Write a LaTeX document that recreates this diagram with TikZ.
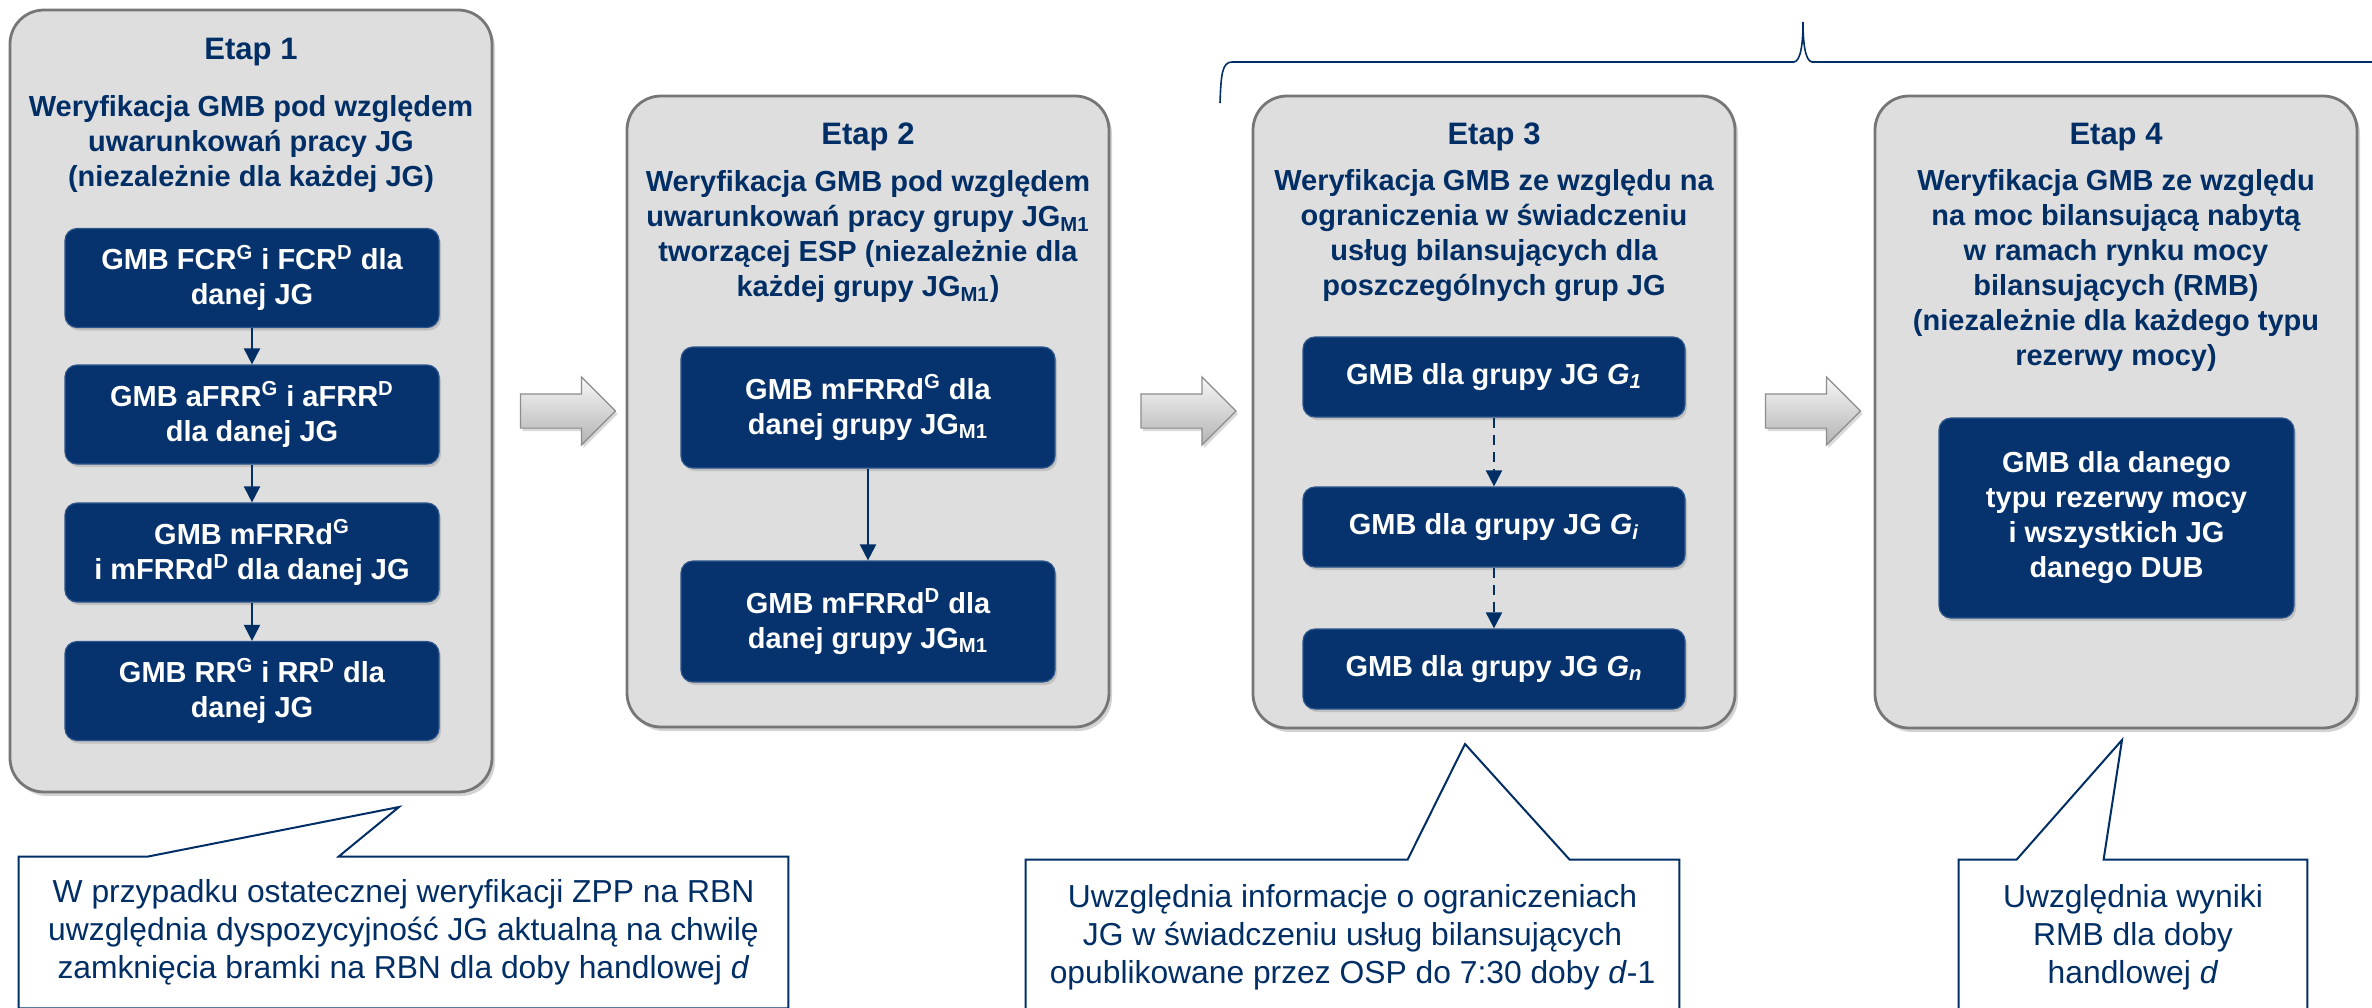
\documentclass[tikz,border=0pt]{standalone}
\usepackage{fontspec}
\setmainfont{Liberation Sans}
\usetikzlibrary{shapes.arrows,shadows,calc,arrows.meta}

\definecolor{navy}{RGB}{0,46,101}
\definecolor{boxblue}{RGB}{6,51,110}
\definecolor{boxrim}{RGB}{45,85,140}
\definecolor{panelfill}{RGB}{222,222,222}
\definecolor{panelrim}{RGB}{118,118,118}
\definecolor{arrowrim}{RGB}{140,140,140}

\tikzset{
  panel/.style={draw=panelrim, line width=1.4pt, fill=panelfill, rounded corners=17pt,
    minimum width=241pt,
    drop shadow={shadow xshift=1.5pt, shadow yshift=-2pt, opacity=0.35}},
  stagehead/.style={text=navy, inner sep=0pt, font=\fontsize{15.5}{18}\selectfont\bfseries},
  stagetitle/.style={text=navy, align=center, inner sep=0pt,
    font=\fontsize{14.5}{17.5}\selectfont\bfseries},
  task/.style={fill=boxblue, draw=boxrim, line width=0.6pt, rounded corners=6pt,
    text=white, align=center, inner sep=0pt,
    font=\fontsize{14.5}{17.5}\selectfont\bfseries,
    drop shadow={shadow xshift=1pt, shadow yshift=-1.5pt, opacity=0.3}},
  flow/.style={draw=navy, line width=1pt, -{Triangle[width=8pt,length=8pt]}},
  flowdash/.style={flow, dash pattern=on 5pt off 3.5pt},
  stagearrow/.style={single arrow, single arrow head extend=8.5pt, single arrow head indent=0pt,
    inner xsep=0pt, inner ysep=8.25pt, minimum height=47.5pt,
    draw=arrowrim, line width=0.6pt, top color=white!97!black, bottom color=black!30,
    drop shadow={shadow xshift=1pt, shadow yshift=-1.5pt, opacity=0.3}},
  notebox/.style={text=navy, align=center, inner sep=0pt,
    font=\fontsize{15.9}{19}\selectfont},
  noteline/.style={draw=navy, line width=1pt, line join=miter},
  bracket/.style={draw=navy, line width=0.8pt},
}

\begin{document}
\begin{tikzpicture}[x=0.5pt,y=-0.5pt]
\useasboundingbox (0,0) rectangle (2372,1007);
\clip (0,0) rectangle (2372,1007);

% ---------- stage panels ----------
\node[panel, minimum height=391pt]   (e1) at (251,401)    {};
\node[panel, minimum height=315.5pt] (e2) at (868,411.5)  {};
\node[panel, minimum height=316pt]   (e3) at (1494,412)   {};
\node[panel, minimum height=316pt]   (e4) at (2116,412)   {};

% ---------- stage headings ----------
\node[stagehead] (h1) at (251,52)  {Etap 1};
\node[stagehead] (h2) at (868,137) {Etap 2};
\node[stagehead] (h3) at (1494,137) {Etap 3};
\node[stagehead] (h4) at (2116,137) {Etap 4};

\node[stagetitle] (t1) at (251,144) {Weryfikacja GMB pod względem\\uwarunkowań pracy JG\\(niezależnie dla każdej JG)};
\node[stagetitle] (t2) at (868,237) {Weryfikacja GMB pod względem\\uwarunkowań pracy grupy JG\textsubscript{M1}\\tworzącej ESP (niezależnie dla\\każdej grupy JG\textsubscript{M1})};
\node[stagetitle] (t3) at (1494,236) {Weryfikacja GMB ze względu na\\ograniczenia w świadczeniu\\usług bilansujących dla\\poszczególnych grup JG};
\node[stagetitle] (t4) at (2116,270) {Weryfikacja GMB ze względu\\na moc bilansującą nabytą\\w ramach rynku mocy\\bilansujących (RMB)\\(niezależnie dla każdego typu\\rezerwy mocy)};

% ---------- stage 1 tasks ----------
\begin{scope}[every node/.append style={minimum width=187pt, minimum height=49.5pt}]
\node[task] (a1) at (252,278)   {GMB FCR\textsuperscript{G} i FCR\textsuperscript{D} dla\\danej JG};
\node[task] (a2) at (252,414.5) {GMB aFRR\textsuperscript{G} i aFRR\textsuperscript{D}\\dla danej JG};
\node[task] (a3) at (252,552.5) {GMB mFRRd\textsuperscript{G}\\i mFRRd\textsuperscript{D} dla danej JG};
\node[task] (a4) at (252,691)   {GMB RR\textsuperscript{G} i RR\textsuperscript{D} dla\\danej JG};
\end{scope}
\draw[flow] (a1) -- (a2);
\draw[flow] (a2) -- (a3);
\draw[flow] (a3) -- (a4);

% ---------- stage 2 tasks ----------
\begin{scope}[every node/.append style={minimum width=187pt, minimum height=60.5pt}]
\node[task] (b1) at (868,407.5) {GMB mFRRd\textsuperscript{G} dla\\danej grupy JG\textsubscript{M1}};
\node[task] (b2) at (868,621.5) {GMB mFRRd\textsuperscript{D} dla\\danej grupy JG\textsubscript{M1}};
\end{scope}
\draw[flow] (b1) -- (b2);

% ---------- stage 3 tasks ----------
\begin{scope}[every node/.append style={minimum width=191pt, minimum height=40pt}]
\node[task] (c1) at (1494,377) {GMB dla grupy JG \textit{G\textsubscript{1}}};
\node[task] (c2) at (1494,527) {GMB dla grupy JG \textit{G\textsubscript{i}}};
\node[task] (c3) at (1494,669) {GMB dla grupy JG \textit{G\textsubscript{n}}};
\end{scope}
\draw[flowdash] (c1) -- (c2);
\draw[flowdash] (c2) -- (c3);

% ---------- stage 4 task ----------
\node[task, minimum width=177.5pt, minimum height=100pt] (d1) at (2116.5,518)
  {GMB dla danego\\typu rezerwy mocy\\i wszystkich JG\\danego DUB};

% ---------- arrows between stages ----------
\node[stagearrow] (s12) at (559.5,411) {};
\node[stagearrow] (s23) at (1180,411)  {};
\node[stagearrow] (s34) at (1804.5,411) {};

% ---------- bracket over stages 3 and 4 ----------
\draw[bracket] (1220,103) .. controls (1221,75) and (1222,62) .. (1232,62)
  -- (1794,62) .. controls (1801,61) and (1803,42) .. (1803,22)
  .. controls (1803,42) and (1805,61) .. (1812,62) -- (2380,62);

% ---------- notes ----------
\coordinate (p1) at (399,807);
\coordinate (p2) at (1465,744);
\coordinate (p3) at (2122,740);

\node[notebox, minimum width=384.5pt, minimum height=75.5pt] (n1) at (403.5,932.5)
  {W przypadku ostatecznej weryfikacji ZPP na RBN\\uwzględnia dyspozycyjność JG aktualną na chwilę\\zamknięcia bramki na RBN dla doby handlowej \textit{d}};
\node[notebox, minimum width=326.5pt, minimum height=77pt] (n2) at (1352.5,937)
  {Uwzględnia informacje o ograniczeniach\\JG w świadczeniu usług bilansujących\\opublikowane przez OSP do 7:30 doby \textit{d}-1};
\node[notebox, minimum width=174pt, minimum height=77pt] (n3) at (2133,937)
  {Uwzględnia wyniki\\RMB dla doby\\handlowej \textit{d}};

\draw[noteline] (n1.south west) -- (n1.north west) -- ($(n1.north west)+(129,0)$) -- (p1)
  -- ($(n1.north west)+(320,0)$) -- (n1.north east) -- (n1.south east) -- cycle;
\draw[noteline] (n2.south west) -- (n2.north west) -- ($(n2.north west)+(382,0)$) -- (p2)
  -- ($(n2.north west)+(544,0)$) -- (n2.north east) -- (n2.south east) -- cycle;
\draw[noteline] (n3.south west) -- (n3.north west) -- ($(n3.north west)+(58,0)$) -- (p3)
  -- ($(n3.north west)+(145,0)$) -- (n3.north east) -- (n3.south east) -- cycle;
\end{tikzpicture}
\end{document}
